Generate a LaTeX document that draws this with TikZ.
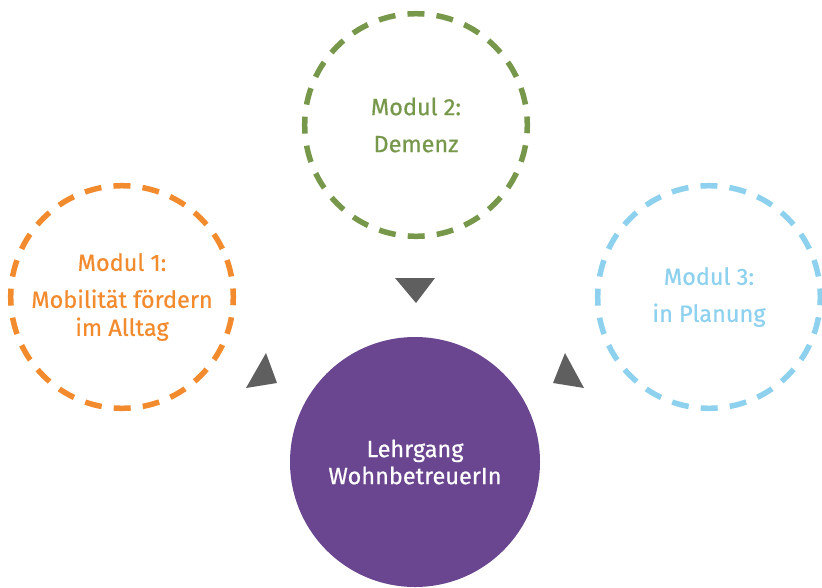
\documentclass[tikz,border=0pt]{standalone}
\usepackage{fontspec}
\setmainfont{Fira Sans}[FakeBold=0.6]
\definecolor{modorange}{HTML}{F28A2E}
\definecolor{modgreen}{HTML}{77984B}
\definecolor{modblue}{HTML}{8DD1EF}
\definecolor{hubpurple}{HTML}{6A4690}
\definecolor{pointer}{HTML}{5F5F5F}
\begin{document}
\begin{tikzpicture}[x=1pt,y=-1pt,
  modul/.style={circle, draw=#1, text=#1, line width=5.5pt,
    dash pattern=on 17pt off 12.15pt, dash phase=8.5pt,
    minimum size=222.6pt, inner sep=0pt, align=center,
    font=\fontsize{23.5}{28}\selectfont},
  hub/.style={circle, fill=hubpurple, text=white, draw=none,
    minimum size=250pt, inner sep=0pt, align=center,
    font=\fontsize{23.5}{27}\selectfont},
  pointerfill/.style={fill=pointer}]
  \useasboundingbox (0,0) rectangle (822,587);

  % module circles
  \node[modul=modorange] (m1) at (122,297) {Modul 1:\\[9pt]Mobilität fördern\\im Alltag};
  \node[modul=modgreen]  (m2) at (416,125) {Modul 2:\\[9pt]Demenz};
  \node[modul=modblue]   (m3) at (709,297) {Modul 3:\\[9pt]in Planung};

  % central course
  \node[hub] (hub) at (415,462) {Lehrgang\\WohnbetreuerIn};

  % pointers towards the course
  \fill[pointerfill] (395,278) -- (435,278) -- (416,303) -- cycle;
  \fill[pointerfill] (266,353) -- (246,388) -- (277,383) -- cycle;
  \fill[pointerfill] (565,353) -- (553,383) -- (584,388) -- cycle;
\end{tikzpicture}
\end{document}
